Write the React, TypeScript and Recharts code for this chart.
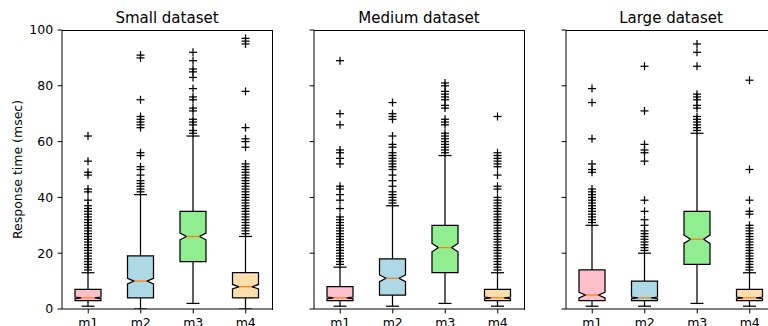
import { ComposedChart, Bar, XAxis, YAxis } from "recharts";

const methods = ["m1", "m2", "m3", "m4"];
const boxColors = ["pink", "lightblue", "lightgreen", "navajowhite"];
const yTicks = [0, 20, 40, 60, 80, 100];

// small dataset
const smallQ1 = [3, 4, 17, 4];
const smallMedian = [4, 10, 26, 8];
const smallQ3 = [7, 19, 35, 13];
const smallWhiskerLo = [1, 0, 2, 0];
const smallWhiskerHi = [13, 41, 62, 26];
const smallNotch = [0.3, 1, 1.2, 0.8];
const smallFliers = [
  [62, 53, 49, 48, 43, 42, 39, 37, 36, 35, 34, 33, 32, 31, 30, 29, 28, 27, 26, 25, 24, 23, 22, 21, 20, 19, 18, 17, 16, 15, 14],
  [91, 90, 75, 69, 68, 67, 66, 65, 56, 55, 51, 50, 48, 46, 45, 44, 43, 42],
  [92, 89, 86, 85, 83, 79, 76, 75, 72, 71, 68, 67, 66, 64, 63],
  [97, 96, 95, 78, 65, 61, 60, 58, 52, 51, 50, 49, 48, 47, 46, 45, 44, 43, 42, 41, 40, 39, 38, 37, 36, 35, 34, 33, 32, 31, 30, 29, 28, 27],
];

// medium dataset
const mediumQ1 = [3, 5, 13, 3];
const mediumMedian = [4, 11, 22, 4];
const mediumQ3 = [8, 18, 30, 7];
const mediumWhiskerLo = [1, 1, 2, 1];
const mediumWhiskerHi = [15, 37, 55, 13];
const mediumNotch = [0.3, 1.2, 1.5, 0.3];
const mediumFliers = [
  [89, 70, 66, 57, 56, 54, 52, 44, 43, 41, 39, 36, 33, 32, 31, 30, 29, 28, 27, 26, 25, 24, 23, 22, 21, 20, 19, 18, 17, 16],
  [74, 70, 69, 68, 62, 59, 58, 56, 55, 54, 53, 52, 51, 50, 48, 46, 44, 42, 41, 40, 39, 38],
  [81, 80, 78, 77, 76, 75, 73, 72, 68, 67, 66, 63, 62, 61, 60, 59, 58, 57, 56],
  [69, 56, 55, 54, 53, 52, 51, 48, 44, 43, 40, 39, 38, 37, 36, 35, 34, 33, 32, 31, 30, 29, 28, 27, 26, 25, 24, 23, 22, 21, 20, 19, 18, 17, 16, 15, 14],
];

// large dataset
const largeQ1 = [3, 3, 16, 3];
const largeMedian = [5, 4, 25, 4];
const largeQ3 = [14, 10, 35, 7];
const largeWhiskerLo = [1, 1, 2, 1];
const largeWhiskerHi = [30, 20, 63, 13];
const largeNotch = [1, 0.3, 1.5, 0.3];
const largeFliers = [
  [79, 74, 61, 52, 50, 49, 43, 42, 41, 40, 39, 38, 37, 36, 35, 34, 33, 32, 31],
  [87, 71, 59, 57, 56, 53, 39, 35, 32, 30, 28, 27, 26, 25, 24, 23, 22, 21],
  [95, 92, 87, 77, 76, 75, 73, 72, 69, 68, 67, 66, 65, 64],
  [82, 50, 39, 35, 34, 30, 29, 28, 27, 26, 25, 24, 23, 22, 21, 20, 19, 18, 17, 16, 15, 14],
];

const FONT = "DejaVu Sans, sans-serif";

// panel geometry: plot areas are 210 x 279, top at 30
const PLOT_W = 210;
const PLOT_H = 279;
const PLOT_TOP = 30;

function makeRows(q1: number[], med: number[], q3: number[], lo: number[], hi: number[], notch: number[], fliers: number[][]) {
  return methods.map((name, i) => ({
    name,
    q1: q1[i],
    med: med[i],
    q3: q3[i],
    lo: lo[i],
    hi: hi[i],
    notch: notch[i],
    fliers: fliers[i],
    color: boxColors[i],
  }));
}

// draws whiskers, notched box, median and fliers for one range bar [lo, hi]
function BoxShape(props: any) {
  const { x, y, width, height, payload: d } = props;
  if (height == null || !d) return null;
  const k = height / (d.hi - d.lo);
  const py = (v: number) => y + (d.hi - v) * k;
  const cx = x + width / 2;
  const l = x;
  const r = x + width;
  const cl = cx - width / 4;
  const cr = cx + width / 4;
  const pts = [
    [l, py(d.q1)],
    [l, py(d.med - d.notch)],
    [cl, py(d.med)],
    [l, py(d.med + d.notch)],
    [l, py(d.q3)],
    [r, py(d.q3)],
    [r, py(d.med + d.notch)],
    [cr, py(d.med)],
    [r, py(d.med - d.notch)],
    [r, py(d.q1)],
  ]
    .map((p) => p.join(","))
    .join(" ");
  return (
    <g>
      <polygon points={pts} fill={d.color} stroke="#000" strokeWidth={1.25} />
      <line x1={cx} x2={cx} y1={py(d.q1)} y2={py(d.lo)} stroke="#000" strokeWidth={1.25} />
      <line x1={cx} x2={cx} y1={py(d.q3)} y2={py(d.hi)} stroke="#000" strokeWidth={1.25} />
      <line x1={cl} x2={cr} y1={py(d.lo)} y2={py(d.lo)} stroke="#000" strokeWidth={1.25} />
      <line x1={cl} x2={cr} y1={py(d.hi)} y2={py(d.hi)} stroke="#000" strokeWidth={1.25} />
      <line x1={cl} x2={cr} y1={py(d.med)} y2={py(d.med)} stroke="#ff7f0e" strokeWidth={1.25} />
      {d.fliers.map((v: number, j: number) => (
        <g key={j} stroke="#000" strokeWidth={1.25}>
          <line x1={cx - 4} x2={cx + 4} y1={py(v)} y2={py(v)} />
          <line x1={cx} x2={cx} y1={py(v) - 4} y2={py(v) + 4} />
        </g>
      ))}
    </g>
  );
}

type PanelProps = {
  rows: any[];
  left: number;
  yAxisWidth: number;
  showLabels: boolean;
};

function Panel({ rows, left, yAxisWidth, showLabels }: PanelProps) {
  const axisLine = { stroke: "#000", strokeWidth: 1 };
  return (
    <div style={{ position: "absolute", left, top: 0 }}>
      <ComposedChart
        width={yAxisWidth + PLOT_W + 8}
        height={326}
        data={rows}
        margin={{ top: PLOT_TOP, right: 8, bottom: 0, left: 0 }}
      >
        <XAxis
          dataKey="name"
          height={326 - PLOT_TOP - PLOT_H}
          axisLine={axisLine}
          tickLine={{ stroke: "#000" }}
          tickSize={4.4}
          tickMargin={4.4}
          tick={{ fontSize: 12.5, fill: "#000", fontFamily: FONT }}
          interval={0}
        />
        <YAxis
          type="number"
          domain={[0, 100]}
          ticks={yTicks}
          width={yAxisWidth}
          axisLine={axisLine}
          tickLine={{ stroke: "#000" }}
          tickSize={4.4}
          tickMargin={4.4}
          tick={{ fontSize: 12.5, fill: "#000", fontFamily: FONT }}
          tickFormatter={(v) => (showLabels ? String(v) : "")}
          allowDataOverflow
        />
        <Bar
          dataKey={(d: any) => [d.lo, d.hi]}
          barSize={26}
          shape={BoxShape}
          isAnimationActive={false}
        />
      </ComposedChart>
    </div>
  );
}

const panelLefts = [0, 300, 552];
const panelAxisWidths = [62, 14, 14];
const panelTitles = ["Small dataset", "Medium dataset", "Large dataset"];

export default function App() {
  const small = makeRows(smallQ1, smallMedian, smallQ3, smallWhiskerLo, smallWhiskerHi, smallNotch, smallFliers);
  const medium = makeRows(mediumQ1, mediumMedian, mediumQ3, mediumWhiskerLo, mediumWhiskerHi, mediumNotch, mediumFliers);
  const large = makeRows(largeQ1, largeMedian, largeQ3, largeWhiskerLo, largeWhiskerHi, largeNotch, largeFliers);
  const panels = [small, medium, large];

  return (
    <div
      style={{
        position: "fixed",
        left: 0,
        top: 0,
        width: 768,
        height: 326,
        overflow: "hidden",
        background: "#fff",
        fontFamily: FONT,
      }}
    >
      {panels.map((rows, i) => (
        <Panel key={i} rows={rows} left={panelLefts[i]} yAxisWidth={panelAxisWidths[i]} showLabels={i === 0} />
      ))}
      {/* top and right spines of each panel */}
      {panels.map((_, i) => (
        <div
          key={"frame" + i}
          style={{
            position: "absolute",
            left: panelLefts[i] + panelAxisWidths[i] - 0.5,
            top: PLOT_TOP - 0.5,
            width: PLOT_W,
            height: PLOT_H,
            borderTop: "1px solid #000",
            borderRight: "1px solid #000",
            pointerEvents: "none",
          }}
        />
      ))}
      <svg width={768} height={326} style={{ position: "absolute", left: 0, top: 0, pointerEvents: "none" }}>
        {panels.map((_, i) => (
          <text
            key={i}
            x={panelLefts[i] + panelAxisWidths[i] + PLOT_W / 2}
            y={23}
            fontFamily={FONT}
            fontSize={15}
            fill="#000"
            textAnchor="middle"
          >
            {panelTitles[i]}
          </text>
        ))}
        <text
          x={21.5}
          y={169.5}
          transform="rotate(-90 21.5 169.5)"
          textAnchor="middle"
          fontFamily={FONT}
          fontSize={12.5}
          fill="#000"
        >
          Response time (msec)
        </text>
      </svg>
    </div>
  );
}
